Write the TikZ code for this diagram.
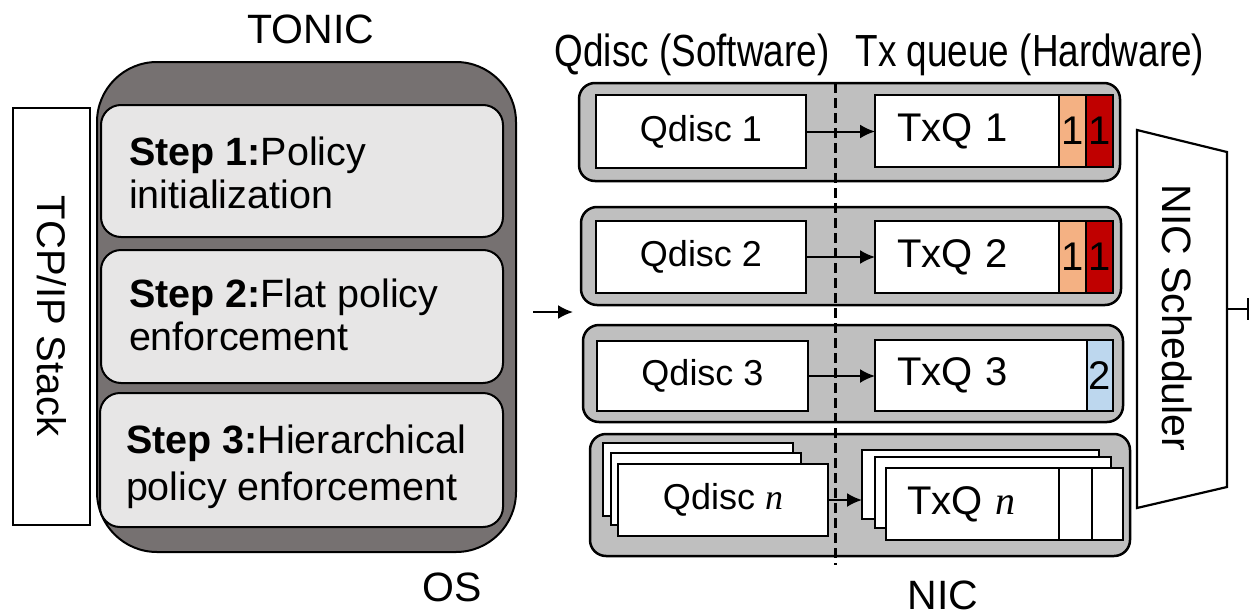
\documentclass[tikz,border=0pt]{standalone}
\usepackage{fontspec}
\setmainfont{Liberation Sans}
\newfontfamily\narrowsans[FakeStretch=0.82]{Liberation Sans}
\newfontfamily\varfont{Liberation Serif}
\newcommand{\qvar}[1]{{\varfont\itshape #1}}
\usetikzlibrary{arrows.meta}

\definecolor{osgray}{HTML}{767171}
\definecolor{steplight}{HTML}{E7E6E6}
\definecolor{rowgray}{HTML}{BFBFBF}
\definecolor{peach}{HTML}{F4B183}
\definecolor{darkred}{HTML}{C00000}
\definecolor{paleblue}{HTML}{BDD7EE}

\tikzset{
  every node/.style={inner sep=0pt, outer sep=0pt},
  osbox/.style={draw, line width=2pt, fill=osgray, rounded corners=60pt},
  stepbox/.style={draw, line width=2pt, fill=steplight, rounded corners=20pt},
  steptext/.style={anchor=base west, font=\fontsize{39.5}{46}\selectfont},
  stackbox/.style={draw, line width=2pt, fill=white, font=\fontsize{40}{47}\selectfont},
  rowbox/.style={draw, line width=2.5pt, fill=rowgray, rounded corners=16pt},
  qbox/.style={draw, line width=2.6pt, fill=white, font=\fontsize{36}{42}\selectfont},
  tbox/.style={draw, line width=2.6pt, fill=white, font=\fontsize{40}{47}\selectfont,
    inner xsep=22pt, text width=194pt, align=left},
  cell/.style={draw, line width=2.6pt, font=\fontsize{40}{47}\selectfont},
  flow/.style={line width=2pt, -{Latex[length=15pt, width=14pt]}},
  divider/.style={line width=3pt, dash pattern=on 10pt off 5pt},
  header/.style={anchor=base, font=\narrowsans\fontsize{45}{50}\selectfont},
  caption/.style={anchor=base, font=\fontsize{41}{48}\selectfont},
}

\begin{document}
\begin{tikzpicture}[x=1pt, y=-1pt]
\useasboundingbox (0,0) rectangle (1251,616);

% ---------- operating system side ----------
\node[osbox, minimum width=419pt, minimum height=490pt] (os) at (306.5,307) {};
\node[stepbox, minimum width=402pt, minimum height=132pt] (st1) at (302,171) {};
\node[stepbox, minimum width=402pt, minimum height=133pt] (st2) at (302,316.5) {};
\node[stepbox, minimum width=403pt, minimum height=134pt] (st3) at (301.5,460) {};

\node[steptext] (s1a) at (129,165) {\textbf{Step 1:}Policy};
\node[steptext] (s1b) at (129,208) {initialization};
\node[steptext] (s2a) at (129,307) {\textbf{Step 2:}Flat policy};
\node[steptext] (s2b) at (129,350) {enforcement};
\node[steptext] (s3a) at (126,453) {\textbf{Step 3:}Hierarchical};
\node[steptext] (s3b) at (126,500) {policy enforcement};

\node[stackbox, rotate=-90, minimum width=417pt, minimum height=77pt] (tcp) at (51.5,316) {TCP/IP Stack};

\node[caption] (tonic) at (311,43) {TONIC};
\node[caption] (oslabel) at (452,601) {OS};

% input arrow into the queues
\coordinate (in-start) at (533,312);
\coordinate (in-end) at (573,312);
\draw[flow] (in-start) -- (in-end);

% ---------- NIC side ----------
\node[header] (hsw) at (692,66) {Qdisc (Software)};
\node[header] (hhw) at (1030,66) {Tx queue (Hardware)};

\node[rowbox, minimum width=541pt, minimum height=98pt] (r1) at (849.5,132) {};
\node[rowbox, minimum width=540pt, minimum height=98pt] (r2) at (851,256) {};
\node[rowbox, minimum width=540pt, minimum height=97pt] (r3) at (853,373.5) {};
\node[rowbox, minimum width=540pt, minimum height=122pt] (r4) at (860,495) {};

\coordinate (div-top) at (835,83);
\coordinate (div-bot) at (835,565);
\draw[divider] (div-top) -- (div-bot);

% software queues
\node[qbox, minimum width=210pt, minimum height=73pt] (q1) at (701,131.5) {Qdisc 1};
\node[qbox, minimum width=210pt, minimum height=72pt] (q2) at (701,257) {Qdisc 2};
\node[qbox, minimum width=211pt, minimum height=70pt] (q3) at (702.5,376) {Qdisc 3};
\node[qbox, minimum width=190pt, minimum height=73pt] (qnb3) at (698,479.5) {};
\node[qbox, minimum width=190pt, minimum height=72pt] (qnb2) at (706,489) {};
\node[qbox, minimum width=210pt, minimum height=72pt] (qn) at (723,500) {Qdisc \qvar{n}};

% hardware queues
\node[tbox, minimum height=72pt] (t1) at (994,131) {TxQ 1};
\node[tbox, minimum height=72pt] (t2) at (994,257) {TxQ 2};
\node[tbox, minimum height=71pt] (t3) at (994,375.5) {TxQ 3};
\node[qbox, minimum width=237pt, minimum height=69pt] (tqb3) at (980.5,484.5) {};
\node[qbox, minimum width=236pt, minimum height=71pt] (tqb2) at (993,492.5) {};
\node[tbox, minimum height=72pt, inner xsep=21pt, text width=195pt] (tqn) at (1004.5,504) {TxQ \qvar{n}};

% packets waiting in the hardware queues
\node[cell, fill=peach, minimum width=27pt, minimum height=72pt] (c1a) at (1072.5,131) {1};
\node[cell, fill=darkred, minimum width=27pt, minimum height=72pt] (c1b) at (1099.5,131) {1};
\node[cell, fill=peach, minimum width=27pt, minimum height=72pt] (c2a) at (1072.5,257) {1};
\node[cell, fill=darkred, minimum width=27pt, minimum height=72pt] (c2b) at (1099.5,257) {1};
\node[cell, fill=paleblue, minimum width=26pt, minimum height=71pt] (c3a) at (1100,375.5) {2};
\node[cell, fill=white, minimum width=33pt, minimum height=72pt] (cna) at (1075.5,504) {};
\node[cell, fill=white, minimum width=31pt, minimum height=72pt] (cnb) at (1107.5,504) {};

% software -> hardware
\draw[flow] (q1.east) -- (q1.east -| t1.west);
\draw[flow] (q2.east) -- (q2.east -| t2.west);
\draw[flow] (q3.east) -- (q3.east -| t3.west);
\draw[flow] (qn.east) -- (qn.east -| tqb3.west);

% NIC scheduler
\coordinate (sch-tl) at (1137,130);
\coordinate (sch-tr) at (1227,152);
\coordinate (sch-br) at (1227,487);
\coordinate (sch-bl) at (1137,508);
\draw[line width=2.2pt, fill=white, line join=miter] (sch-tl) -- (sch-tr) -- (sch-br) -- (sch-bl) -- cycle;
\node[rotate=-90, font=\fontsize{41}{48}\selectfont] (sched) at (1177,318) {NIC Scheduler};
\coordinate (sch-out) at (1227,309);
\coordinate (wire-end) at (1249,309);
\draw[line width=2pt, -{Bar[width=22pt, line width=2pt]}] (sch-out) -- (wire-end);

\node[caption] (niclabel) at (943,609) {NIC};
\end{tikzpicture}
\end{document}
